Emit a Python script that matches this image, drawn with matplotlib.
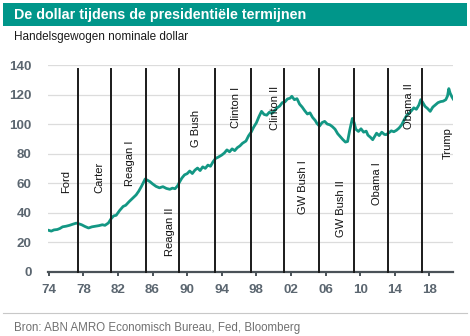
import matplotlib
matplotlib.use("Agg")
import matplotlib.pyplot as plt
from matplotlib.patches import Rectangle
from matplotlib.lines import Line2D

plt.rcParams['font.family'] = ['Liberation Sans', 'DejaVu Sans']

# Data (decimal year, index value)
years = [1974.0, 1974.3, 1974.6, 1975.0, 1975.3, 1975.6, 1976.0, 1976.4, 1976.8, 1977.2,
         1977.5, 1977.8, 1978.2, 1978.6, 1979.0, 1979.4, 1979.8, 1980.2, 1980.5, 1980.9,
         1981.2, 1981.5, 1981.8, 1982.2, 1982.6, 1982.9, 1983.3, 1983.7, 1984.1, 1984.4,
         1984.7, 1985.0, 1985.15, 1985.4, 1985.7, 1986.0, 1986.4, 1986.8, 1987.2, 1987.6,
         1988.0, 1988.3, 1988.6, 1988.9, 1989.1, 1989.4, 1989.7, 1990.0, 1990.3, 1990.6,
         1990.9, 1991.2, 1991.5, 1991.8, 1992.1, 1992.4, 1992.7, 1993.0, 1993.3, 1993.6,
         1994.0, 1994.3, 1994.6, 1994.9, 1995.2, 1995.5, 1995.8, 1996.1, 1996.4, 1996.8,
         1997.1, 1997.4, 1997.7, 1998.0, 1998.3, 1998.6, 1998.9, 1999.2, 1999.5, 1999.8,
         2000.1, 2000.4, 2000.7, 2001.0, 2001.3, 2001.6, 2001.9, 2002.1, 2002.4, 2002.7,
         2003.0, 2003.3, 2003.6, 2003.9, 2004.2, 2004.5, 2004.8, 2005.0, 2005.3, 2005.6,
         2005.9, 2006.2, 2006.5, 2006.8, 2007.1, 2007.4, 2007.7, 2008.0, 2008.3, 2008.55,
         2008.8, 2009.1, 2009.3, 2009.5, 2009.8, 2010.1, 2010.4, 2010.7, 2010.9, 2011.2,
         2011.45, 2011.7, 2011.9, 2012.2, 2012.5, 2012.8, 2013.0, 2013.3, 2013.6, 2013.9,
         2014.2, 2014.5, 2014.8, 2015.1, 2015.4, 2015.7, 2016.0, 2016.2, 2016.5, 2016.8,
         2017.0, 2017.2, 2017.5, 2017.8, 2018.1, 2018.4, 2018.7, 2019.0, 2019.3, 2019.6,
         2019.9, 2020.1, 2020.25, 2020.4, 2020.6, 2020.75]
dollar = [28.0, 27.5, 28.3, 28.6, 29.3, 30.4, 30.8, 31.4, 32.2, 32.9,
          32.4, 31.8, 30.6, 29.6, 30.4, 30.8, 31.2, 31.8, 31.4, 33.0,
          35.8, 37.8, 38.2, 41.5, 44.2, 45.0, 47.5, 49.8, 52.0, 54.5,
          57.6, 61.0, 62.8, 62.0, 61.0, 59.5, 57.8, 56.8, 57.6, 56.4,
          55.8, 56.6, 56.2, 58.2, 60.5, 63.5, 65.6, 66.4, 68.2, 66.5,
          68.8, 70.2, 68.5, 71.0, 70.0, 72.2, 71.4, 74.5, 76.8, 77.6,
          79.0, 80.4, 82.5, 81.2, 83.2, 82.0, 84.0, 85.2, 87.0, 88.5,
          92.0, 94.5, 98.0, 100.8, 105.0, 108.6, 106.5, 106.0, 108.0, 107.2,
          109.0, 111.0, 112.2, 114.5, 115.0, 117.0, 117.5, 118.8, 116.5, 117.2,
          113.5, 111.5, 109.0, 106.8, 107.6, 104.5, 102.5, 100.5, 98.6, 101.0,
          101.8, 100.0, 99.5, 98.2, 96.5, 93.5, 91.5, 89.5, 87.8, 88.2,
          96.0, 103.8, 101.0, 96.5, 95.0, 96.8, 94.5, 95.2, 92.5, 91.0,
          89.4, 91.8, 93.8, 92.2, 94.5, 93.0, 92.8, 94.0, 95.4, 94.8,
          95.8, 97.3, 99.5, 103.0, 106.0, 107.5, 109.5, 111.0, 110.0, 113.0,
          116.5, 115.0, 112.0, 110.5, 108.6, 111.5, 113.0, 114.5, 115.2, 115.5,
          116.5, 119.0, 124.0, 121.0, 118.5, 117.0]

term_ends = [1977.4, 1981.2, 1985.2, 1989.1, 1993.25, 1997.4, 2001.25, 2005.3, 2009.3, 2013.2, 2017.2]
labels = ["Ford", "Carter", "Reagan I", "Reagan II", "G Bush", "Clinton I", "Clinton II",
          "GW Bush I", "GW Bush II", "Obama I", "Obama II", "Trump"]
label_x = [1976.05, 1979.9, 1983.35, 1988.05, 1991.05, 1995.67, 2000.1, 2003.45, 2007.8, 2012.0, 2015.6, 2020.1]
label_y = [53, 53, 58, 10.8, 84.7, 97.3, 96, 39.2, 23.4, 45, 96.6, 76]

xticks = [1974, 1978, 1982, 1986, 1990, 1994, 1998, 2002, 2006, 2010, 2014, 2018]
xticklabels = ["74", "78", "82", "86", "90", "94", "98", "02", "06", "10", "14", "18"]
yticks = [0, 20, 40, 60, 80, 100, 120, 140]

W, H = 470, 336
fig = plt.figure(figsize=(W / 100, H / 100), dpi=100)
fig.patch.set_facecolor("white")

# title bar
fig.patches.append(Rectangle((3 / W, 1 - 26 / H), 464 / W, 23 / H, transform=fig.transFigure,
                             facecolor="#00968a", edgecolor="none"))
fig.text(14 / W, 1 - 15 / H, "De dollar tijdens de presidentiële termijnen", color="white",
         fontsize=10.3, fontweight="bold", ha="left", va="center")
fig.text(14 / W, 1 - 37 / H, "Handelsgewogen nominale dollar", color="#1a1a1a",
         fontsize=8.5, ha="left", va="center")

ax = fig.add_axes([48.3 / W, 1 - 271.7 / H, 404.4 / W, 206.7 / H])
ax.set_xlim(1973.95, 2020.7)
ax.set_ylim(0, 140)

for y in yticks[1:]:
    ax.axhline(y, color="#dcdcdc", lw=0.9, zorder=1)

ax.plot(years, dollar, color="#139784", lw=2.0, zorder=3, solid_joinstyle="round")

for x in term_ends:
    ax.plot([x, x], [0, 137], color="#1a1a1a", lw=1.4, zorder=4, clip_on=False)

for t, x, y in zip(labels, label_x, label_y):
    ax.text(x, y, t, rotation=90, ha="center", va="bottom", fontsize=8, color="#111111", zorder=5)

for s in ["top", "right", "left"]:
    ax.spines[s].set_visible(False)
ax.spines["bottom"].set_color("#4a5258")
ax.spines["bottom"].set_linewidth(1.6)

ax.set_xticks(xticks)
ax.set_xticklabels(xticklabels)
ax.set_yticks(yticks)
ax.tick_params(axis="x", direction="out", length=3, width=1.4, color="#4a5258", pad=6,
               labelsize=9.6, labelcolor="#5b6670")
ax.tick_params(axis="y", length=0, pad=12, labelsize=9.6, labelcolor="#5b6670")
for lab in ax.get_xticklabels() + ax.get_yticklabels():
    lab.set_fontweight("bold")

# footer
fig.add_artist(Line2D([3 / W, 467 / W], [1 - 313.3 / H, 1 - 313.3 / H], transform=fig.transFigure,
                      color="#c8c8c8", lw=0.8))
fig.text(14 / W, 1 - 327.7 / H, "Bron: ABN AMRO Economisch Bureau, Fed, Bloomberg",
         color="#707070", fontsize=8.3, ha="left", va="center")

fig.savefig("out.png", dpi=100, facecolor="white")
